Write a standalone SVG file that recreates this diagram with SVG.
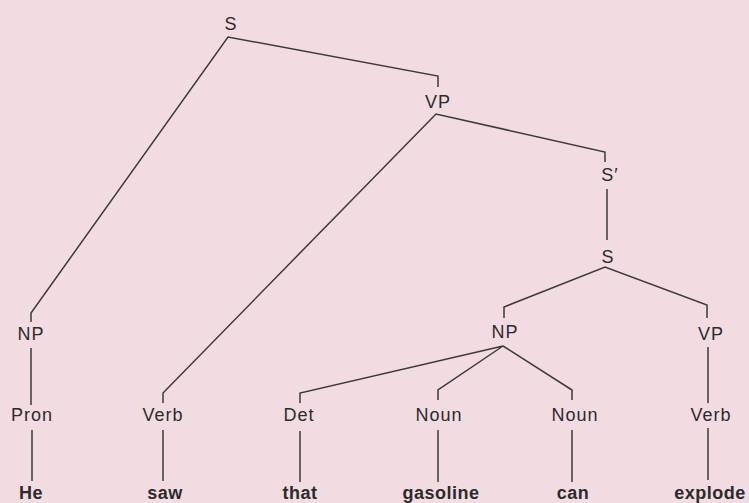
<svg xmlns="http://www.w3.org/2000/svg" width="749" height="503" viewBox="0 0 749 503">
<style>
.bg{fill:#f2dce2}
.lbl{font-family:"Liberation Sans",Arial,sans-serif;font-size:18px;fill:#2b2b2b;text-anchor:middle;letter-spacing:1px}
.word{font-family:"Liberation Sans",Arial,sans-serif;font-size:18px;font-weight:bold;fill:#2b2b2b;text-anchor:middle;letter-spacing:0.5px}
.edge{fill:none;stroke:#3a3a3a;stroke-width:1.5;stroke-linejoin:miter}
</style>
<rect class="bg" x="0" y="0" width="749" height="503"/>
<g id="connectors">
<polyline class="edge" points="31,322 31,313 228,37 438,76 438,87"/>
<polyline class="edge" points="163,403 163,393 436,114 605,152 605,162"/>
<line class="edge" x1="607" y1="189" x2="607" y2="240"/>
<polyline class="edge" points="504,318 504,307 605,267 707,305 707,318"/>
<polyline class="edge" points="300,403 300,393 503,346 438,390 438,400"/>
<polyline class="edge" points="503,346 572,390 572,400"/>
<line class="edge" x1="31" y1="348" x2="31" y2="405"/>
<line class="edge" x1="708" y1="347" x2="708" y2="403"/>
<line class="edge" x1="32" y1="430" x2="32" y2="481"/>
<line class="edge" x1="163" y1="430" x2="163" y2="481"/>
<line class="edge" x1="300" y1="431" x2="300" y2="482"/>
<line class="edge" x1="438" y1="430" x2="438" y2="482"/>
<line class="edge" x1="572" y1="430" x2="572" y2="482"/>
<line class="edge" x1="708" y1="428" x2="708" y2="480"/>
</g>
<g id="n-S-top"><text class="lbl" x="231" y="30">S</text></g>
<g id="n-VP-top"><text class="lbl" x="438" y="108">VP</text></g>
<g id="n-Sbar"><text class="lbl" x="610" y="181">S′</text></g>
<g id="n-S-low"><text class="lbl" x="608" y="263">S</text></g>
<g id="n-NP-left"><text class="lbl" x="31" y="340">NP</text></g>
<g id="n-NP-mid"><text class="lbl" x="505" y="338">NP</text></g>
<g id="n-VP-right"><text class="lbl" x="711" y="340">VP</text></g>
<g id="n-Pron"><text class="lbl" x="32" y="421">Pron</text></g>
<g id="n-Verb1"><text class="lbl" x="163" y="421">Verb</text></g>
<g id="n-Det"><text class="lbl" x="299" y="421">Det</text></g>
<g id="n-Noun1"><text class="lbl" x="439" y="421">Noun</text></g>
<g id="n-Noun2"><text class="lbl" x="575" y="421">Noun</text></g>
<g id="n-Verb2"><text class="lbl" x="711" y="421">Verb</text></g>
<g id="w-He"><text class="word" x="31" y="499">He</text></g>
<g id="w-saw"><text class="word" x="165" y="499">saw</text></g>
<g id="w-that"><text class="word" x="300" y="499">that</text></g>
<g id="w-gasoline"><text class="word" x="441" y="499">gasoline</text></g>
<g id="w-can"><text class="word" x="573" y="499">can</text></g>
<g id="w-explode"><text class="word" x="710" y="499">explode</text></g>
</svg>
